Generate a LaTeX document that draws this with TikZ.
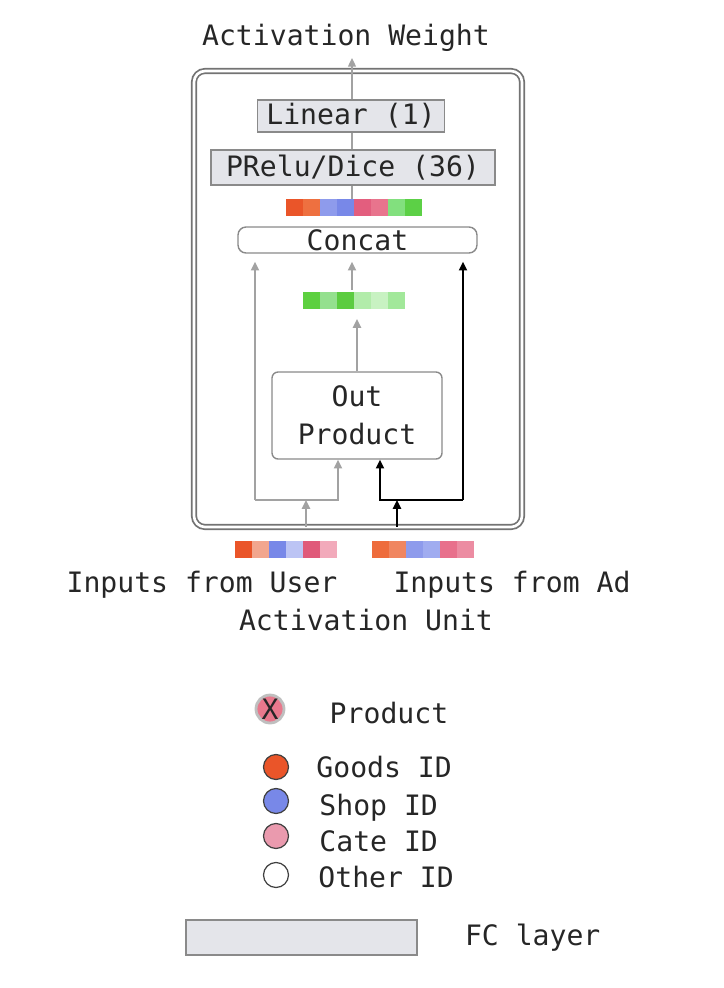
\documentclass[tikz,border=0pt]{standalone}
\usepackage{fontspec}
\setmonofont{DejaVu Sans Mono}
\usepackage{tikz}
\usetikzlibrary{arrows.meta,positioning}
\definecolor{fcgray}{HTML}{E4E5EA}
\definecolor{edgegray}{HTML}{8A8A8A}
\definecolor{linegray}{HTML}{A2A2A2}
\definecolor{goods}{HTML}{EA5529}
\definecolor{shop}{HTML}{7888E8}
\definecolor{cate}{HTML}{EA9AAE}
\definecolor{prodpink}{HTML}{E8788C}
%% strip cells
\definecolor{ca}{HTML}{EA5529}\definecolor{cb}{HTML}{EE7040}
\definecolor{cc}{HTML}{8E9BEC}\definecolor{cd}{HTML}{7888E8}
\definecolor{ce}{HTML}{E35E7E}\definecolor{cf}{HTML}{E8748D}
\definecolor{cg}{HTML}{82E07E}\definecolor{ch}{HTML}{5CD046}
\definecolor{ga}{HTML}{5DD040}\definecolor{gb}{HTML}{94E08E}
\definecolor{gc}{HTML}{5CCC40}\definecolor{gd}{HTML}{B2ECAA}
\definecolor{ge}{HTML}{C8F2C2}\definecolor{gf}{HTML}{A2E89A}
\definecolor{ua}{HTML}{EA5529}\definecolor{ub}{HTML}{F2A68E}
\definecolor{uc}{HTML}{7888E8}\definecolor{ud}{HTML}{BCC4F4}
\definecolor{ue}{HTML}{E05A7A}\definecolor{uf}{HTML}{F2AABB}
\definecolor{aa}{HTML}{EE6C3C}\definecolor{ab}{HTML}{F08660}
\definecolor{ac}{HTML}{8E9BEC}\definecolor{ad}{HTML}{A0ACF0}
\definecolor{ae}{HTML}{E8708C}\definecolor{af}{HTML}{EC8CA2}

\begin{document}
\begin{tikzpicture}[
    x=0.02cm,y=-0.02cm,
    every node/.style={font=\ttfamily\fontsize{16}{19}\selectfont,text=black!85},
    fcbox/.style={draw=edgegray,fill=fcgray,line width=0.8pt,inner sep=0pt},
    roundbox/.style={draw=edgegray,fill=white,line width=0.8pt,inner sep=0pt},
    strip/.style={inner sep=0pt,minimum height=0.34cm},
    idcirc/.style={circle,draw=black!75,line width=0.7pt,minimum size=0.5cm,inner sep=0pt},
    legtext/.style={inner sep=0pt},
    thin/.style={linegray,line width=0.9pt},
    garrow/.style={linegray,line width=1.2pt,-{Triangle[length=5pt,width=4.5pt]}},
    barrow/.style={black,line width=1.2pt,-{Triangle[length=5pt,width=4.5pt]}}
  ]
  \useasboundingbox (0,0) rectangle (724,988);

  %% Activation unit frame
  \draw[black!55,double=white,double distance=1.5pt,line width=1pt,rounded corners=0.22cm]
    (194,71) rectangle (522,527);

  %% Top of the unit
  \node (aw) at (346,38) {Activation Weight};
  \node[fcbox,minimum width=3.74cm,minimum height=0.64cm] (lin) at (351,116) {Linear (1)};
  \node[fcbox,minimum width=5.68cm,minimum height=0.70cm] (prelu) at (353,167.5) {PRelu/Dice (36)};
  \node[strip,minimum width=2.74cm] (s1) at (354.5,207.5) {};
  \node[roundbox,rounded corners=0.16cm,minimum width=4.78cm,minimum height=0.52cm] (cat) at (357.5,240) {Concat};

  %% Middle of the unit
  \node[strip,minimum width=2.06cm] (s2) at (354.5,300.5) {};
  \node[roundbox,rounded corners=0.12cm,minimum width=3.4cm,minimum height=1.74cm,
        align=center,font=\ttfamily\fontsize{16}{21.5}\selectfont] (op) at (357,415.5) {Out\\Product};

  %% Inputs
  \node[strip,minimum width=2.06cm] (us) at (286.5,549.5) {};
  \node[strip,minimum width=2.06cm] (ads) at (423.5,549.5) {};
  \node (ulab) at (202,585) {Inputs from User};
  \node (alab) at (512,585) {Inputs from Ad};
  \node (aul) at (366,620) {Activation Unit};

  %% Strip cells
  \foreach \c [count=\i] in {ca,cb,cc,cd,ce,cf,cg,ch}
    \fill[\c] (s1.north west) ++({(\i-1)*17.1},0) rectangle ++(17.1,17);
  \foreach \c [count=\i] in {ga,gb,gc,gd,ge,gf}
    \fill[\c] (s2.north west) ++({(\i-1)*17.1},0) rectangle ++(17.1,17);
  \foreach \c [count=\i] in {ua,ub,uc,ud,ue,uf}
    \fill[\c] (us.north west) ++({(\i-1)*17.1},0) rectangle ++(17.1,17);
  \foreach \c [count=\i] in {aa,ab,ac,ad,ae,af}
    \fill[\c] (ads.north west) ++({(\i-1)*17.1},0) rectangle ++(17.1,17);

  %% Upper connectors
  \draw[thin,-{Triangle[length=5pt,width=4.5pt]}] (lin.north -| 352,0) -- (aw.south -| 352,0);
  \draw[thin] (prelu.north -| 352,0) -- (lin.south -| 352,0);
  \draw[thin] (s1.north -| 352,0) -- (prelu.south -| 352,0);

  %% Junctions
  \coordinate (gl) at (255,500);
  \coordinate (gr) at (338,500);
  \coordinate (gin) at (306,500);
  \coordinate (bl) at (380,500);
  \coordinate (br) at (463,500);
  \coordinate (bin) at (397,500);

  %% User side (gray)
  \draw[garrow,shorten <=8pt] (us.north -| gin) -- (gin);
  \draw[garrow] (gl) -- (gr) -- (gr |- op.south);
  \draw[garrow,shorten >=4.5pt] (gl) -- (gl |- cat.south);
  \draw[garrow,shorten >=5.5pt] (op.north) -- (op.north |- s2.south);
  \draw[garrow,shorten <=1pt,shorten >=4.5pt] (s2.north -| 352,0) -- (cat.south -| 352,0);

  %% Ad side (black)
  \draw[barrow,shorten <=8pt] (ads.north -| bin) -- (bin);
  \draw[barrow] (br) -- (bl) -- (bl |- op.south);
  \draw[barrow,shorten >=4.5pt] (br) -- (br |- cat.south);

  %% Legend
  \node[circle,draw=black!25,line width=1.6pt,fill=prodpink,minimum size=0.56cm,inner sep=0pt] (prodc) at (270,709) {X};
  \node[legtext,right=0.88cm of prodc,yshift=-0.08cm] (prodt) {Product};
  \node[idcirc,fill=goods] (goodc) at (276,767) {};
  \node[legtext,right=0.54cm of goodc] (goodt) {Goods ID};
  \node[idcirc,fill=shop] (shopc) at (276,801) {};
  \node[legtext,right=0.6cm of shopc,yshift=-0.14cm] (shopt) {Shop ID};
  \node[idcirc,fill=cate] (catec) at (276,836) {};
  \node[legtext,right=0.6cm of catec,yshift=-0.1cm] (catet) {Cate ID};
  \node[idcirc,fill=white] (othc) at (276,875) {};
  \node[legtext,right=0.58cm of othc,yshift=-0.05cm] (otht) {Other ID};
  \node[fcbox,minimum width=4.62cm,minimum height=0.70cm] (fc) at (301.5,937.5) {};
  \node[legtext,right=0.94cm of fc] (fct) {FC layer};
\end{tikzpicture}
\end{document}
